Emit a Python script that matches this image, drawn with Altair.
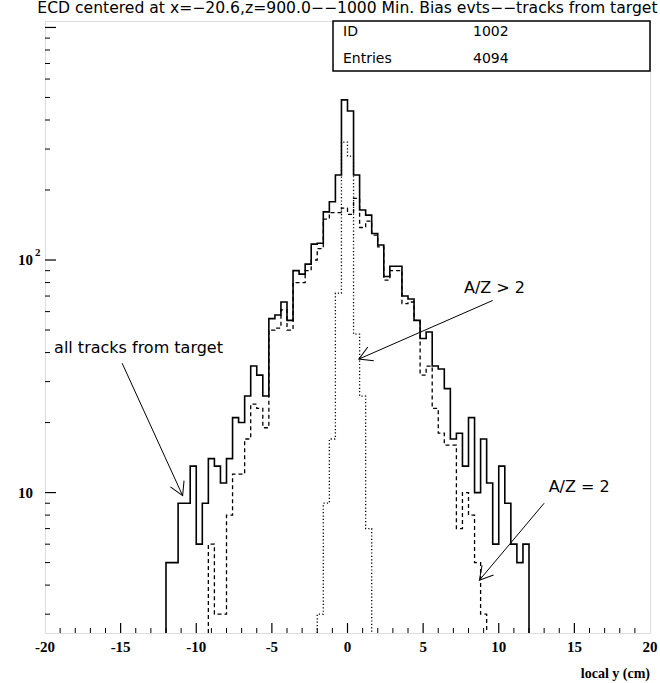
import math
import altair as alt
import pandas as pd

# ---------------- data ----------------
BIN = 0.4
all_start = -12.0
all_counts = [5, 5, 9, 9, 13, 6, 9, 14, 13, 11,
              14, 21, 20, 26, 35, 32, 26, 56, 58, 66,
              55, 90, 87, 96, 117, 118, 161, 178, 232, 488,
              437, 232, 164, 156, 130, 116, 85, 94, 94, 70,
              68, 55, 46, 49, 35, 34, 28, 17, 18, 13,
              21, 10, 17, 11, 6, 13, 9, 6, 5, 6]
az2_start = -9.2
az2_counts = [6, 3, 3, 8, 12, 12, 17, 24, 23, 19,
              50, 51, 61, 50, 80, 80, 90, 100, 112, 150,
              160, 160, 167, 157, 184, 138, 147, 128, 114, 82,
              90, 90, 65, 66, 55, 32, 35, 23, 18, 16,
              16, 7, 10, 8, 5, 3]
azgt2_start = -2.0
azgt2_counts = [3, 9, 17, 72, 321, 280, 48, 26, 7]

title_text = "ECD centered at x=\u221220.6,z=900.0\u2212\u22121000 Min. Bias evts\u2212\u2212tracks from target"
stats_keys = ["ID", "Entries"]
stats_vals = ["1002", "4094"]
x_label_values = [-20, -15, -10, -5, 0, 5, 10, 15, 20]
x_label_text = ["-20", "-15", "-10", "-5", "0", "5", "10", "15", "20"]
y_label_values = [10, 100]
y_label_base = ["10", "10"]
y_label_sup = ["", "2"]
x_title = "local y (cm)"

# annotations: text, text position, arrow tail, arrow tip (data units)
ann_text = ["all tracks from target", "A/Z > 2", "A/Z = 2"]
ann_text_x = [-19.4, 7.7, 13.3]
ann_text_y = [42.0, 76.0, 10.6]
ann_tail_x = [-14.9, 9.6, 13.0]
ann_tail_y = [36.0, 67.0, 9.0]
ann_tip_x = [-10.9, 0.75, 8.72]
ann_tip_y = [9.7, 37.5, 4.2]

# ---------------- layout ----------------
X_MIN, X_MAX = -20, 20
Y_MIN, Y_MAX = 2.49, 1066
W, H = 605, 612


def px(x):
    return (x - X_MIN) / (X_MAX - X_MIN) * W


def py(y):
    return H * (1 - (math.log10(y) - math.log10(Y_MIN)) / (math.log10(Y_MAX) - math.log10(Y_MIN)))


def step_rows(series, start, counts):
    rows = [dict(series=series, x=start, y=Y_MIN, k=0)]
    for i, c in enumerate(counts):
        rows.append(dict(series=series, x=round(start + i * BIN, 4), y=c, k=i + 1))
    rows.append(dict(series=series, x=round(start + len(counts) * BIN, 4), y=Y_MIN, k=len(counts) + 1))
    return rows


hist = pd.DataFrame(step_rows("all", all_start, all_counts)
                    + step_rows("az2", az2_start, az2_counts)
                    + step_rows("azgt2", azgt2_start, azgt2_counts))

xs = alt.Scale(domain=[X_MIN, X_MAX], nice=False, zero=False)
ys = alt.Scale(type="log", domain=[Y_MIN, Y_MAX], nice=False)
SERIF = "Liberation Serif"
SANS = "DejaVu Sans"


def hist_layer(name, dash, width):
    m = alt.Chart(hist).transform_filter(alt.datum.series == name).mark_line(
        interpolate="step-after", color="black", strokeWidth=width, clip=True,
        **({"strokeDash": dash} if dash else {}))
    return m.encode(
        x=alt.X("x:Q", scale=xs, axis=None),
        y=alt.Y("y:Q", scale=ys, axis=None),
        order=alt.Order("k:Q"),
    )


solid = hist_layer("all", None, 1.6)
dashed = hist_layer("az2", [4, 3], 1.3)
dotted = hist_layer("azgt2", [1.2, 2.2], 1.3)

# tick marks (inside the frame)
xt = pd.DataFrame({"t": list(range(-19, 20))})
xt["major"] = xt["t"] % 5 == 0
x_minor = alt.Chart(xt).transform_filter("!datum.major").mark_rule(color="black", strokeWidth=1).encode(
    x=alt.X("t:Q", scale=xs, axis=None), y=alt.value(H), y2=alt.value(H - 5))
x_major = alt.Chart(xt).transform_filter("datum.major").mark_rule(color="black", strokeWidth=1.2).encode(
    x=alt.X("t:Q", scale=xs, axis=None), y=alt.value(H), y2=alt.value(H - 10))

ytv = [3, 4, 5, 6, 7, 8, 9, 10, 20, 30, 40, 50, 60, 70, 80, 90, 100,
       200, 300, 400, 500, 600, 700, 800, 900, 1000]
yt = pd.DataFrame({"t": ytv})
yt["major"] = yt["t"].isin([10, 100, 1000])
y_minor = alt.Chart(yt).transform_filter("!datum.major").mark_rule(color="black", strokeWidth=1).encode(
    y=alt.Y("t:Q", scale=ys, axis=None), x=alt.value(0), x2=alt.value(5))
y_major = alt.Chart(yt).transform_filter("datum.major").mark_rule(color="black", strokeWidth=1.2).encode(
    y=alt.Y("t:Q", scale=ys, axis=None), x=alt.value(0), x2=alt.value(11))

# axis labels (placed through the scales)
xl = pd.DataFrame({"v": x_label_values, "t": x_label_text})
x_labels = alt.Chart(xl).mark_text(font=SERIF, fontWeight="bold", fontSize=15, color="black",
                                   baseline="middle", align="center").encode(
    x=alt.X("v:Q", scale=xs, axis=None), y=alt.value(H + 14), text="t:N")
yl = pd.DataFrame({"v": y_label_values, "base": y_label_base, "sup": y_label_sup})
y_labels = alt.Chart(yl).mark_text(font=SERIF, fontWeight="bold", fontSize=15, color="black",
                                   baseline="middle", align="right").encode(
    y=alt.Y("v:Q", scale=ys, axis=None), x=alt.value(-12), text="base:N")
y_sups = alt.Chart(yl).mark_text(font=SERIF, fontWeight="bold", fontSize=11, color="black",
                                 baseline="middle", align="left", dy=-7).encode(
    y=alt.Y("v:Q", scale=ys, axis=None), x=alt.value(-10), text="sup:N")
x_title_txt = alt.Chart(pd.DataFrame({"t": [x_title]})).mark_text(
    font=SERIF, fontWeight="bold", fontSize=14, color="black", align="right", baseline="middle").encode(
    x=alt.value(W), y=alt.value(H + 41), text="t:N")

# statistics box
BOX_L = 288
box = alt.Chart(pd.DataFrame({"a": [0]})).mark_rect(fill="white", stroke="black", strokeWidth=1.5).encode(
    x=alt.value(BOX_L), x2=alt.value(W), y=alt.value(0), y2=alt.value(50))
stats_layers = []
for i, (k, v) in enumerate(zip(stats_keys, stats_vals)):
    d = pd.DataFrame({"k": [k], "v": [v]})
    yy = 11 + 27 * i
    stats_layers.append(alt.Chart(d).mark_text(align="left", baseline="middle", font=SANS, fontSize=14,
                                               color="black").encode(
        x=alt.value(BOX_L + 10), y=alt.value(yy), text="k:N"))
    stats_layers.append(alt.Chart(d).mark_text(align="left", baseline="middle", font=SANS, fontSize=14,
                                               color="black").encode(
        x=alt.value(BOX_L + 140), y=alt.value(yy), text="v:N"))

# annotations
ann = pd.DataFrame({"text": ann_text, "tx": ann_text_x, "ty": ann_text_y,
                    "x0": ann_tail_x, "y0": ann_tail_y, "x1": ann_tip_x, "y1": ann_tip_y})
ann["angle"] = [
    (math.degrees(math.atan2(px(b) - px(a), -(py(d) - py(c)))) + 360) % 360
    for a, b, c, d in zip(ann["x0"], ann["x1"], ann["y0"], ann["y1"])
]
ann_txt = alt.Chart(ann).mark_text(align="left", baseline="middle", font=SANS, fontSize=16,
                                   color="black").encode(
    x=alt.X("tx:Q", scale=xs, axis=None), y=alt.Y("ty:Q", scale=ys, axis=None), text="text:N")
ann_line = alt.Chart(ann).mark_rule(color="black", strokeWidth=1).encode(
    x=alt.X("x0:Q", scale=xs, axis=None), y=alt.Y("y0:Q", scale=ys, axis=None), x2="x1:Q", y2="y1:Q")
ann_head = alt.Chart(ann).mark_point(shape="M -0.5 0.87 L 0 0 L 0.5 0.87", filled=False, color="black",
                                     strokeWidth=1, size=900, opacity=1).encode(
    x=alt.X("x1:Q", scale=xs, axis=None), y=alt.Y("y1:Q", scale=ys, axis=None),
    angle=alt.Angle("angle:Q", scale=None))

chart = alt.layer(
    solid, dashed, dotted, x_minor, x_major, y_minor, y_major,
    x_labels, y_labels, y_sups, x_title_txt,
    ann_line, ann_head, ann_txt, box, *stats_layers
).properties(
    width=W, height=H,
    title=alt.TitleParams(title_text, font=SANS, fontSize=15.6, fontWeight="normal",
                          color="black", anchor="end", offset=4),
    padding={"left": 45, "top": 21, "right": 10, "bottom": 50},
    autosize=alt.AutoSizeParams(type="none"),
).configure_view(stroke="black", strokeWidth=1.5).configure(background="white")

chart.save("out.html", embed_options={"renderer": "svg", "actions": False})
